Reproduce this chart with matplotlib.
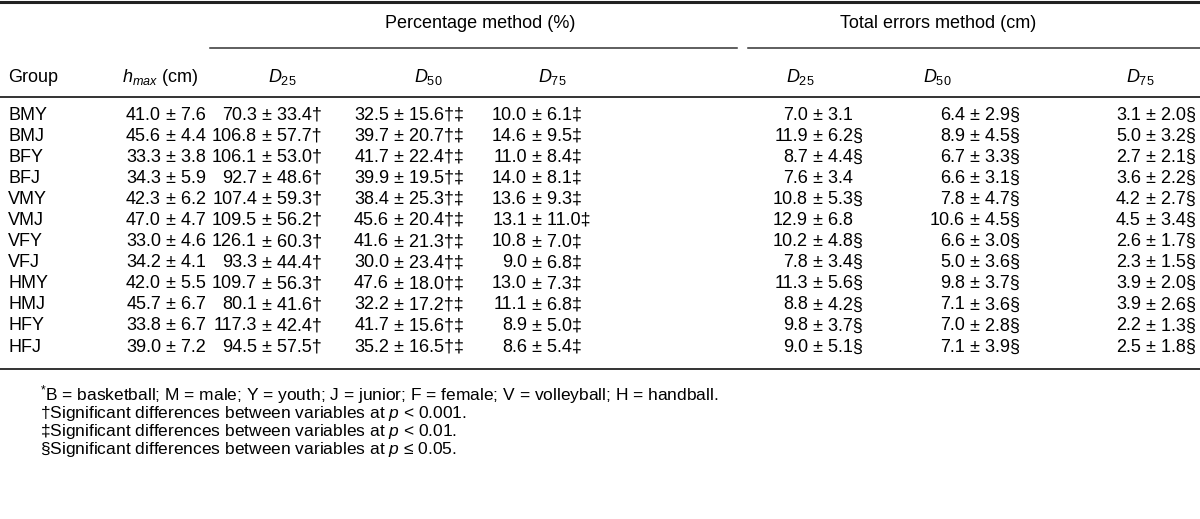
import matplotlib.pyplot as plt

plt.rcParams['font.family'] = ['Liberation Sans', 'DejaVu Sans']
plt.rcParams['mathtext.fontset'] = 'custom'
plt.rcParams['mathtext.it'] = 'Liberation Sans:italic'
plt.rcParams['mathtext.rm'] = 'Liberation Sans'

# table data
groups = ['BMY', 'BMJ', 'BFY', 'BFJ', 'VMY', 'VMJ', 'VFY', 'VFJ', 'HMY', 'HMJ', 'HFY', 'HFJ']
hmax_m = [41.0, 45.6, 33.3, 34.3, 42.3, 47.0, 33.0, 34.2, 42.0, 45.7, 33.8, 39.0]
hmax_s = [7.6, 4.4, 3.8, 5.9, 6.2, 4.7, 4.6, 4.1, 5.5, 6.7, 6.7, 7.2]
p25_m = [70.3, 106.8, 106.1, 92.7, 107.4, 109.5, 126.1, 93.3, 109.7, 80.1, 117.3, 94.5]
p25_s = [33.4, 57.7, 53.0, 48.6, 59.3, 56.2, 60.3, 44.4, 56.3, 41.6, 42.4, 57.5]
p50_m = [32.5, 39.7, 41.7, 39.9, 38.4, 45.6, 41.6, 30.0, 47.6, 32.2, 41.7, 35.2]
p50_s = [15.6, 20.7, 22.4, 19.5, 25.3, 20.4, 21.3, 23.4, 18.0, 17.2, 15.6, 16.5]
p75_m = [10.0, 14.6, 11.0, 14.0, 13.6, 13.1, 10.8, 9.0, 13.0, 11.1, 8.9, 8.6]
p75_s = [6.1, 9.5, 8.4, 8.1, 9.3, 11.0, 7.0, 6.8, 7.3, 6.8, 5.0, 5.4]
t25_m = [7.0, 11.9, 8.7, 7.6, 10.8, 12.9, 10.2, 7.8, 11.3, 8.8, 9.8, 9.0]
t25_s = [3.1, 6.2, 4.4, 3.4, 5.3, 6.8, 4.8, 3.4, 5.6, 4.2, 3.7, 5.1]
t25_mk = ['', '§', '§', '', '§', '', '§', '§', '§', '§', '§', '§']
t50_m = [6.4, 8.9, 6.7, 6.6, 7.8, 10.6, 6.6, 5.0, 9.8, 7.1, 7.0, 7.1]
t50_s = [2.9, 4.5, 3.3, 3.1, 4.7, 4.5, 3.0, 3.6, 3.7, 3.6, 2.8, 3.9]
t75_m = [3.1, 5.0, 2.7, 3.6, 4.2, 4.5, 2.6, 2.3, 3.9, 3.9, 2.2, 2.5]
t75_s = [2.0, 3.2, 2.1, 2.2, 2.7, 3.4, 1.7, 1.5, 2.0, 2.6, 1.3, 1.8]

n = len(groups)
# (means, sds, marks, x where the mean ends)
columns = [
    (hmax_m, hmax_s, [''] * n, 161),
    (p25_m, p25_s, ['\u2020'] * n, 257),
    (p50_m, p50_s, ['\u2020\u2021'] * n, 389),
    (p75_m, p75_s, ['\u2021'] * n, 527),
    (t25_m, t25_s, t25_mk, 808),
    (t50_m, t50_s, ['§'] * n, 965),
    (t75_m, t75_s, ['§'] * n, 1141),
]

fs = 13
fig = plt.figure(figsize=(12, 5.19), dpi=100)
ax = fig.add_axes([0, 0, 1, 1])
ax.set_xlim(0, 1200)
ax.set_ylim(519, 0)
ax.axis('off')

# rules
ax.plot([0, 1200], [1.5, 1.5], color='#222222', lw=2.2)
ax.plot([210, 737], [48, 48], color='#333333', lw=1.1)
ax.plot([748, 1200], [48, 48], color='#333333', lw=1.1)
ax.plot([0, 1200], [97, 97], color='#333333', lw=1.4)
ax.plot([0, 1200], [369, 369], color='#333333', lw=1.4)

ax.text(480, 23, 'Percentage method (%)', fontsize=fs, ha='center', va='center')
ax.text(938, 23, 'Total errors method (cm)', fontsize=fs, ha='center', va='center')

hy = 77
ax.text(8, hy, 'Group', fontsize=fs, ha='left', va='center')
ax.text(160, hy, r'$h_{max}$ (cm)', fontsize=fs, ha='center', va='center')
for x, lab in zip([282, 428, 552, 800, 937, 1140], ['25', '50', '75', '25', '50', '75']):
    ax.text(x, hy, r'$D_{%s}$' % lab, fontsize=fs, ha='center', va='center')

y0, dy = 115, 21.1
for i, g in enumerate(groups):
    y = y0 + i * dy
    ax.text(8, y, g, fontsize=fs, ha='left', va='center')
    for means, sds, marks, xm in columns:
        ax.text(xm, y, '%.1f' % means[i], fontsize=fs, ha='right', va='center')
        ax.text(xm + 5, y, '\u00b1 %.1f%s' % (sds[i], marks[i]), fontsize=fs,
                ha='left', va='center')

notes = [
    r'$^{*}$B = basketball; M = male; Y = youth; J = junior; F = female; V = volleyball; H = handball.',
    '\u2020Significant differences between variables at $p$ < 0.001.',
    '\u2021Significant differences between variables at $p$ < 0.01.',
    '§Significant differences between variables at $p$ \u2264 0.05.',
]
for k, t in enumerate(notes):
    ax.text(40, 400 + k * 18, t, fontsize=12.5, ha='left', va='baseline')

fig.savefig('out.png', dpi=100)
